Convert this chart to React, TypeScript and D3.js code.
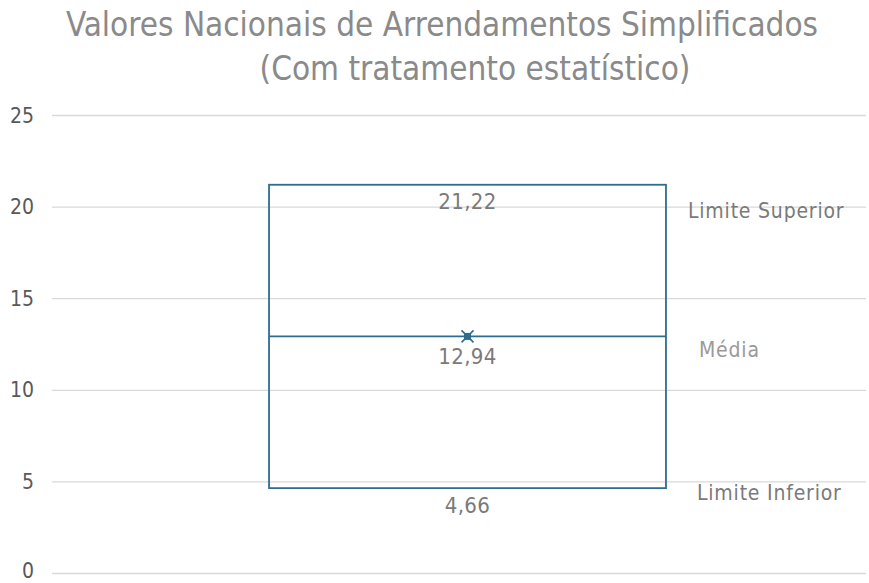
import React from "react";
import * as d3 from "d3";

const titleLines = ["Valores Nacionais de Arrendamentos Simplificados", "(Com tratamento estatístico)"];
const categories = ["Portugal"];
const lowerLimit = [4.66];
const upperLimit = [21.22];
const meanValues = [12.94];
const medianValues = [12.94];
const yTicks = [0, 5, 10, 15, 20, 25];
const annotationLabels = ["Limite Superior", "Média", "Limite Inferior"];
const annotationAnchors = [19.8, 12.2, 4.4];

const W = 869;
const H = 583;
const FONT = "'Liberation Sans Narrow', 'DejaVu Sans Condensed', 'Roboto', sans-serif";
const BLUE = "#2e6d8e";
const GREY = "#7a7a7a";

const fmt = (v: number) => v.toFixed(2).replace(".", ",");

export default function App() {
  const y = d3.scaleLinear().domain([0, 25]).range([573.5, 115.5]);
  const x = d3.scaleBand<string>().domain(categories).range([52, 883]).padding(0.3535);
  const gridX0 = 52;
  const gridX1 = 866;
  const annotX = [688, 699, 697];

  return (
    <svg width={W} height={H} style={{ position: "absolute", left: 0, top: 0, background: "#fff" }}>
      <rect width={W} height={H} fill="#fff" />
      <text x={442} y={36} textAnchor="middle" fontFamily={FONT} fontSize={33} fill="#8a8a8a">
        {titleLines[0]}
      </text>
      <text x={475} y={80} textAnchor="middle" fontFamily={FONT} fontSize={33} fill="#8a8a8a">
        {titleLines[1]}
      </text>
      {yTicks.map((t) => (
        <g key={t}>
          <line x1={gridX0} x2={gridX1} y1={y(t)} y2={y(t)} stroke="#d9d9d9" strokeWidth={1.3} />
          <text x={34} y={Math.min(y(t) + 7, 578)} textAnchor="end" fontFamily={FONT} fontSize={21} fill="#595959">
            {t}
          </text>
        </g>
      ))}
      {categories.map((c, i) => {
        const x0 = x(c)!;
        const bw = x.bandwidth();
        const cx = x0 + bw / 2;
        const my = y(meanValues[i]);
        return (
          <g key={c}>
            <rect
              x={x0}
              y={y(upperLimit[i])}
              width={bw}
              height={y(lowerLimit[i]) - y(upperLimit[i])}
              fill="none"
              stroke={BLUE}
              strokeWidth={1.8}
            />
            <line x1={x0} x2={x0 + bw} y1={y(medianValues[i])} y2={y(medianValues[i])} stroke={BLUE} strokeWidth={1.8} />
            <g transform={`translate(${cx},${my})`}>
              <line x1={-6} y1={-6} x2={6} y2={6} stroke={BLUE} strokeWidth={1.6} />
              <line x1={-6} y1={6} x2={6} y2={-6} stroke={BLUE} strokeWidth={1.6} />
              <rect x={-3.5} y={-3.5} width={7} height={7} fill={BLUE} />
            </g>
            <text x={cx} y={y(upperLimit[i]) + 24} textAnchor="middle" fontFamily={FONT} fontSize={22} letterSpacing={0.4} fill={GREY}>
              {fmt(upperLimit[i])}
            </text>
            <text x={cx} y={my + 28} textAnchor="middle" fontFamily={FONT} fontSize={22} letterSpacing={0.4} fill={GREY}>
              {fmt(meanValues[i])}
            </text>
            <text x={cx} y={y(lowerLimit[i]) + 25} textAnchor="middle" fontFamily={FONT} fontSize={22} letterSpacing={0.4} fill={GREY}>
              {fmt(lowerLimit[i])}
            </text>
          </g>
        );
      })}
      {annotationLabels.map((l, i) => (
        <text
          key={l}
          x={annotX[i]}
          y={y(annotationAnchors[i]) + 7}
          fontFamily={FONT}
          fontSize={21}
          letterSpacing={0.8}
          fill={i === 1 ? "#9a9a9a" : GREY}
        >
          {l}
        </text>
      ))}
    </svg>
  );
}
